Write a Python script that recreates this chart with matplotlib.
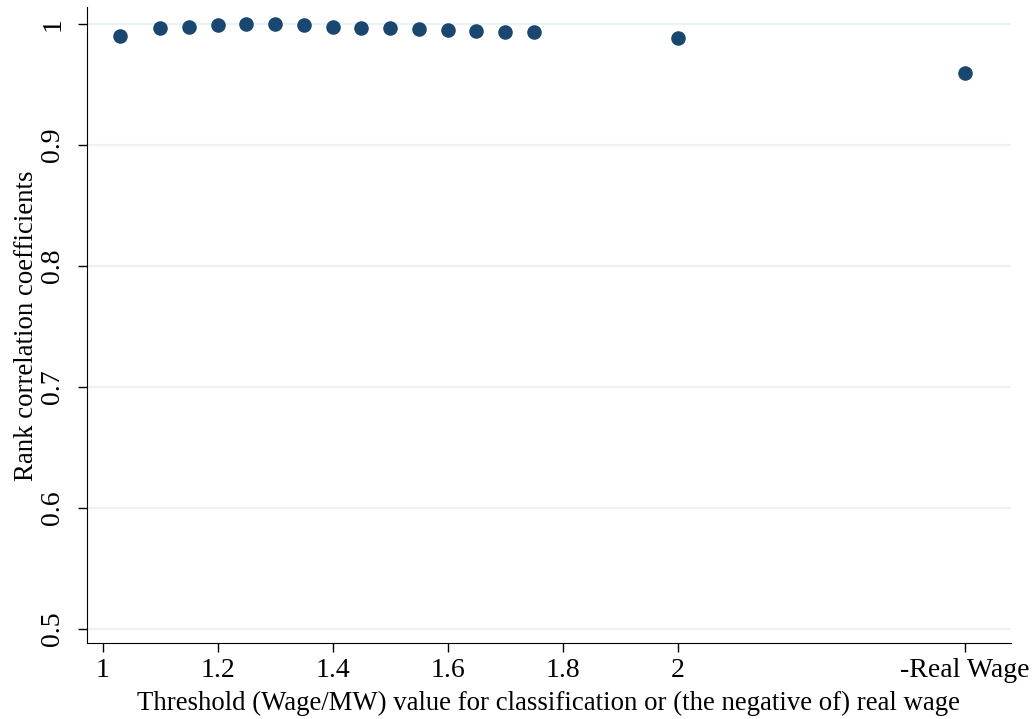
import matplotlib.pyplot as plt
import numpy as np

plt.rcParams['font.family'] = ['Liberation Serif', 'DejaVu Serif']

# thresholds (Wage/MW); 2.5 stands for the "-Real Wage" measure
thresholds = [1.03, 1.1, 1.15, 1.2, 1.25, 1.3, 1.35, 1.4, 1.45, 1.5,
              1.55, 1.6, 1.65, 1.7, 1.75, 2.0, 2.5]
rank_corr = [0.990, 0.9967, 0.9978, 0.9992, 0.9999, 0.9997, 0.9989, 0.9978,
             0.9967, 0.9964, 0.9956, 0.9948, 0.9942, 0.9936, 0.9931, 0.9887,
             0.9597]

xtick_pos = [1, 1.2, 1.4, 1.6, 1.8, 2, 2.5]
xtick_lab = ['1', '1.2', '1.4', '1.6', '1.8', '2', '-Real Wage']
ytick_pos = [0.5, 0.6, 0.7, 0.8, 0.9, 1.0]
ytick_lab = ['0.5', '0.6', '0.7', '0.8', '0.9', '1']

fig = plt.figure(figsize=(10.35, 7.19), dpi=100)
ax = fig.add_axes([0.0838, 0.1053, 0.9768 - 0.0838, 0.9898 - 0.1053])

ax.scatter(thresholds, rank_corr, s=110, color='#1a476f', zorder=3,
           linewidths=0)

ax.set_xlim(0.9722, 2.5797)
ax.set_ylim(0.4882, 1.0138)

for yv in ytick_pos:
    ax.axhline(yv, color='#eaf2f3', lw=1.6, zorder=1)

ax.set_xticks(xtick_pos)
ax.set_xticklabels(xtick_lab, fontsize=20)
ax.set_yticks(ytick_pos)
ax.set_yticklabels(ytick_lab, fontsize=20, rotation=90, va='center')
ax.tick_params(direction='out', length=6.5, width=1, color='black')
ax.tick_params(axis='x', pad=4)
ax.tick_params(axis='y', pad=9)

ax.spines['top'].set_visible(False)
ax.spines['right'].set_visible(False)

ax.set_xlabel('Threshold (Wage/MW) value for classification or (the negative of) real wage',
              fontsize=19.3, labelpad=6)
ax.set_ylabel('Rank correlation coefficients', fontsize=19.3, labelpad=1)

fig.savefig('out.png', dpi=100, facecolor='white')
